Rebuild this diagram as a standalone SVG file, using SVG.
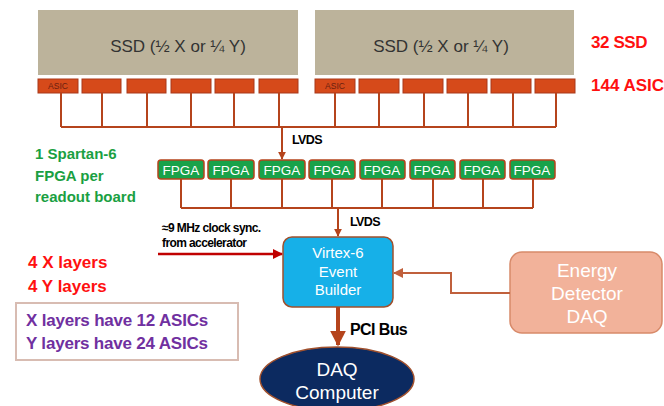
<svg xmlns="http://www.w3.org/2000/svg" width="664" height="406" viewBox="0 0 664 406">
<defs>
<style>
.ssd{fill:#bcb39b}
.ssdt{font-family:"Liberation Sans",Arial,sans-serif;font-size:17px;fill:#333;text-anchor:middle}
.asic{fill:#d64a1a;stroke:#a8391a;stroke-width:1}
.asict{font-family:"Liberation Sans",Arial,sans-serif;font-size:8.5px;fill:#6a2010;text-anchor:middle}
.bus{fill:none;stroke:#b5441c;stroke-width:2}
.fpga{fill:#19a24a;stroke:#b5441c;stroke-width:1.5}
.fpgat{font-family:"Liberation Sans",Arial,sans-serif;font-size:13.5px;fill:#fff;text-anchor:middle}
.lbl{font-family:"Liberation Sans",Arial,sans-serif;font-weight:bold;fill:#000}
.green{font-family:"Liberation Sans",Arial,sans-serif;font-weight:bold;font-size:15px;fill:#1aa042}
.red{font-family:"Liberation Sans",Arial,sans-serif;font-weight:bold;font-size:17px;fill:#ff1010}
.purple{font-family:"Liberation Sans",Arial,sans-serif;font-weight:bold;font-size:17px;fill:#7030a0;letter-spacing:-0.2px}
.white{font-family:"Liberation Sans",Arial,sans-serif;fill:#fff;text-anchor:middle}
</style>
<marker id="ah" viewBox="0 0 10 10" refX="9" refY="5" markerWidth="4" markerHeight="4" orient="auto"><path d="M0,0 L10,5 L0,10 z" fill="#b5441c"/></marker>
<marker id="ahr" viewBox="0 0 10 10" refX="9" refY="5" markerWidth="4" markerHeight="4" orient="auto"><path d="M0,0 L10,5 L0,10 z" fill="#c00000"/></marker>
<marker id="ahs" viewBox="0 0 10 10" refX="9" refY="5" markerWidth="5" markerHeight="5" orient="auto"><path d="M0,0 L10,5 L0,10 z" fill="#c0603c"/></marker>
</defs>

<g id="ssd1">
<rect class="ssd" x="38" y="10" width="260" height="65"/>
<text class="ssdt" x="178" y="52">SSD (½ X or ¼ Y)</text>
</g>
<g id="ssd2">
<rect class="ssd" x="315" y="10" width="259" height="65"/>
<text class="ssdt" x="441" y="52">SSD (½ X or ¼ Y)</text>
</g>

<g id="asics1">
<rect class="asic" x="38" y="79" width="40" height="14"/>
<text class="asict" x="58" y="89">ASIC</text>
<rect class="asic" x="82" y="79" width="39" height="14"/>
<rect class="asic" x="127" y="79" width="39" height="14"/>
<rect class="asic" x="171" y="79" width="40" height="14"/>
<rect class="asic" x="215" y="79" width="39" height="14"/>
<rect class="asic" x="259" y="79" width="39" height="14"/>
</g>
<g id="asics2">
<rect class="asic" x="315" y="79" width="40" height="14"/>
<text class="asict" x="335" y="89">ASIC</text>
<rect class="asic" x="359" y="79" width="40" height="14"/>
<rect class="asic" x="403" y="79" width="40" height="14"/>
<rect class="asic" x="447" y="79" width="40" height="14"/>
<rect class="asic" x="491" y="79" width="40" height="14"/>
<rect class="asic" x="535" y="79" width="40" height="14"/>
</g>

<g id="fpgas">
<rect class="fpga" x="158" y="160" width="46" height="19" rx="3"/><text class="fpgat" x="181" y="174.5">FPGA</text>
<rect class="fpga" x="208" y="160" width="46" height="19" rx="3"/><text class="fpgat" x="231" y="174.5">FPGA</text>
<rect class="fpga" x="259" y="160" width="46" height="19" rx="3"/><text class="fpgat" x="282" y="174.5">FPGA</text>
<rect class="fpga" x="309" y="160" width="46" height="19" rx="3"/><text class="fpgat" x="332" y="174.5">FPGA</text>
<rect class="fpga" x="360" y="160" width="45" height="19" rx="3"/><text class="fpgat" x="382" y="174.5">FPGA</text>
<rect class="fpga" x="410" y="160" width="45" height="19" rx="3"/><text class="fpgat" x="432" y="174.5">FPGA</text>
<rect class="fpga" x="460" y="160" width="45" height="19" rx="3"/><text class="fpgat" x="482" y="174.5">FPGA</text>
<rect class="fpga" x="510" y="160" width="45" height="19" rx="3"/><text class="fpgat" x="532" y="174.5">FPGA</text>
</g>

<g id="virtex">
<rect x="283" y="237" width="110" height="70" rx="9" fill="#16b0e8" stroke="#a0502d" stroke-width="1.5"/>
<text class="white" x="338" y="258" font-size="15">Virtex-6</text>
<text class="white" x="338" y="277" font-size="15">Event</text>
<text class="white" x="338" y="295" font-size="15">Builder</text>
</g>

<g id="energy">
<rect x="510" y="252" width="152" height="81" rx="12" fill="#f2b29a" stroke="#d88a6a" stroke-width="1.5"/>
<text class="white" x="587" y="277" font-size="19">Energy</text>
<text class="white" x="587" y="300" font-size="19">Detector</text>
<text class="white" x="587" y="323" font-size="19">DAQ</text>
</g>

<g id="daq">
<ellipse cx="337" cy="379" rx="77" ry="32" fill="#0c2a60" stroke="#a0502d" stroke-width="1.5"/>
<text class="white" x="337" y="376" font-size="19">DAQ</text>
<text class="white" x="337" y="399" font-size="19">Computer</text>
</g>

<g id="connectors">
<path class="bus" d="M61,93 V127 M102,93 V127 M147,93 V127 M191,93 V127 M234,93 V127 M279,93 V127 M335,93 V127 M379,93 V127 M424,93 V127 M468,93 V127 M513,93 V127 M556,93 V127 M61,127 H556"/>
<path class="bus" d="M282,127 V159" marker-end="url(#ah)"/>
<path class="bus" d="M181,179 V208 M231,179 V208 M282,179 V208 M332,179 V208 M382,179 V208 M433,179 V208 M483,179 V208 M533,179 V208 M181,208 H533"/>
<path class="bus" d="M338,208 V236" marker-end="url(#ah)"/>
<path d="M338,307 V345" fill="none" stroke="#b5441c" stroke-width="4" marker-end="url(#ah)"/>
<path d="M158,254 H282" fill="none" stroke="#c00000" stroke-width="2.5" marker-end="url(#ahr)"/>
<path d="M510,293 H451 V273 H394" fill="none" stroke="#c0603c" stroke-width="2" marker-end="url(#ahs)"/>
</g>

<g id="labels">
<text class="lbl" x="292" y="144" font-size="12.5" letter-spacing="-0.6">LVDS</text>
<text class="lbl" x="350" y="226" font-size="12.5" letter-spacing="-0.6">LVDS</text>
<text class="lbl" x="350" y="335" font-size="16" letter-spacing="-0.6">PCI Bus</text>
<text class="lbl" x="162" y="232" font-size="12" letter-spacing="-0.6">≈9 MHz clock sync.</text>
<text class="lbl" x="162" y="247" font-size="12" letter-spacing="-0.6">from accelerator</text>
<text class="red" x="591" y="48" letter-spacing="-0.4">32 SSD</text>
<text class="red" x="591" y="91">144 ASIC</text>
<text class="green" x="35" y="159">1 Spartan-6</text>
<text class="green" x="35" y="181">FPGA per</text>
<text class="green" x="35" y="202">readout board</text>
<text class="red" x="28" y="268" font-size="18">4 X layers</text>
<text class="red" x="28" y="292" font-size="18">4 Y layers</text>
</g>

<g id="note">
<rect x="16" y="303" width="222" height="57" fill="#fff" stroke="#d8bcb2" stroke-width="2"/>
<text class="purple" x="26" y="326">X layers have 12 ASICs</text>
<text class="purple" x="26" y="349">Y layers have 24 ASICs</text>
</g>
</svg>
